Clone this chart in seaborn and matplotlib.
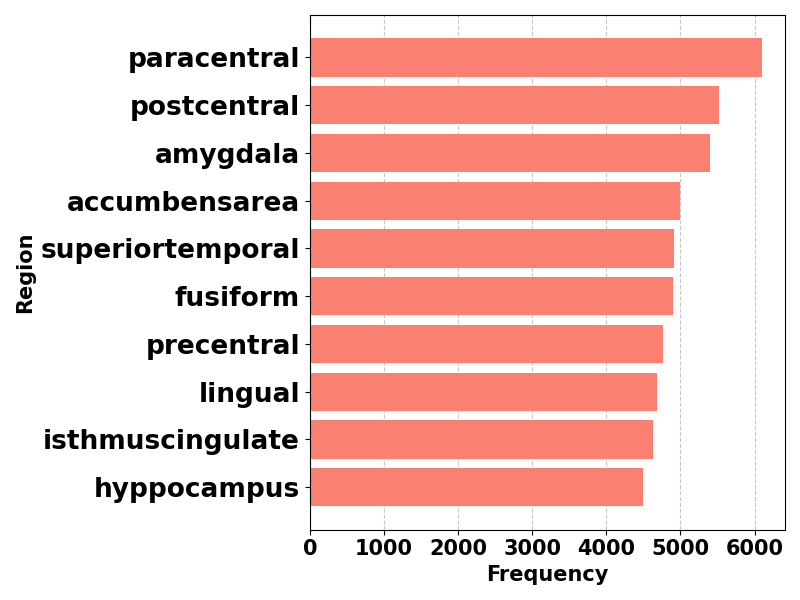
import matplotlib
matplotlib.use("Agg")
import matplotlib.pyplot as plt
import seaborn as sns
import pandas as pd

regions = ["paracentral", "postcentral", "amygdala", "accumbensarea", "superiortemporal",
           "fusiform", "precentral", "lingual", "isthmuscingulate", "hyppocampus"]
frequency = [6105, 5523, 5401, 4998, 4914, 4900, 4765, 4684, 4630, 4495]

df = pd.DataFrame({"Region": regions, "Frequency": frequency})

fig, ax = plt.subplots(figsize=(8, 6), dpi=100)
sns.barplot(data=df, x="Frequency", y="Region", color="salmon", saturation=1,
            width=0.8, ax=ax)
n = len(regions)
ax.set_ylim(n - 1 + 0.4 + 0.49, -0.4 - 0.49)
ax.set_xlim(0, max(frequency) * 1.05 + 0)
ax.grid(axis="x", linestyle="--", alpha=0.7)
ax.set_axisbelow(True)
ax.set_xlabel("Frequency", fontsize=15, fontweight="bold")
ax.set_ylabel("Region", fontsize=15, fontweight="bold")
for lab in ax.get_yticklabels():
    lab.set_fontsize(19)
    lab.set_fontweight("bold")
for lab in ax.get_xticklabels():
    lab.set_fontsize(15)
    lab.set_fontweight("bold")
plt.tight_layout()
fig.savefig("out.png", dpi=100)
